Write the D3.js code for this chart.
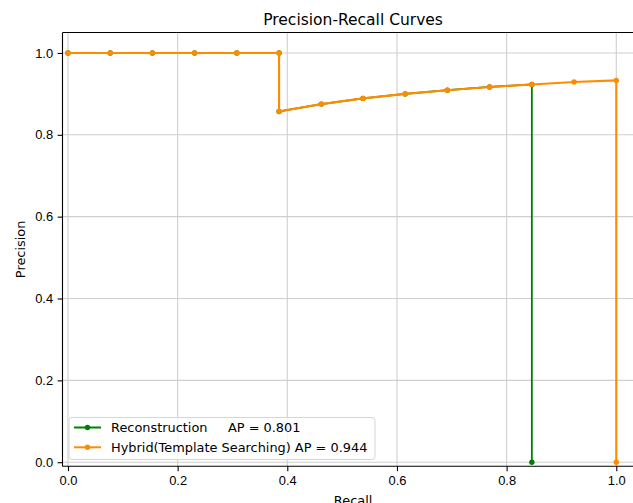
<!DOCTYPE html>
<html>
<head>
<meta charset="utf-8">
<script src="https://cdn.jsdelivr.net/npm/d3@7"></script>
<style>
  body { margin: 0; background: #fff; }
  svg { font-family: "DejaVu Sans", sans-serif; }
  .grid line { stroke: #cfcfcf; stroke-width: 1.1; }
  .axis path, .axis line { stroke: #000; stroke-width: 1.1; }
  .axis text { font-size: 12.9px; fill: #000; }
</style>
</head>
<body>
<script>
// data
var recallHybrid = [0.0, 0.077, 0.154, 0.231, 0.308, 0.385, 0.385, 0.462, 0.538, 0.615, 0.692, 0.769, 0.846, 0.923, 1.0, 1.0];
var precisionHybrid = [1.0, 1.0, 1.0, 1.0, 1.0, 1.0, 0.857, 0.875, 0.889, 0.900, 0.909, 0.917, 0.923, 0.929, 0.933, 0.0];

var recallRecon = [0.0, 0.077, 0.154, 0.231, 0.308, 0.385, 0.385, 0.462, 0.538, 0.615, 0.692, 0.769, 0.846, 0.846];
var precisionRecon = [1.0, 1.0, 1.0, 1.0, 1.0, 1.0, 0.857, 0.875, 0.889, 0.900, 0.909, 0.917, 0.923, 0.0];

var seriesNames = ['Reconstruction     AP = 0.801', 'Hybrid(Template Searching) AP = 0.944'];
var seriesColors = ['#008000', '#ff8c00'];
var seriesWidths = [1.8, 2.1];

var xTicks = [0.0, 0.2, 0.4, 0.6, 0.8, 1.0];
var yTicks = [0.0, 0.2, 0.4, 0.6, 0.8, 1.0];

var svgWidth = 633, svgHeight = 503;
var plotLeft = 62.5, plotTop = 32.5, plotBottom = 466.3;
var plotRight = 643.7;

var series = [
    { name: seriesNames[0], color: seriesColors[0], width: seriesWidths[0], pts: recallRecon.map(function(r, i) { return { r: r, p: precisionRecon[i] }; }) },
    { name: seriesNames[1], color: seriesColors[1], width: seriesWidths[1], pts: recallHybrid.map(function(r, i) { return { r: r, p: precisionHybrid[i] }; }) }
];

var xScale = d3.scaleLinear().domain([-0.01, 1.05]).range([plotLeft, plotRight]);
var yScale = d3.scaleLinear().domain([-0.01, 1.05]).range([plotBottom, plotTop]);

var svg = d3.select('body')
    .append('svg')
    .attr('width', svgWidth)
    .attr('height', svgHeight);

// grid
var grid = svg.append('g').attr('class', 'grid');
grid.selectAll('.gx')
    .data(xTicks)
    .enter().append('line')
    .attr('x1', function(d) { return xScale(d); })
    .attr('x2', function(d) { return xScale(d); })
    .attr('y1', plotTop)
    .attr('y2', plotBottom);
grid.selectAll('.gy')
    .data(yTicks)
    .enter().append('line')
    .attr('x1', plotLeft)
    .attr('x2', plotRight)
    .attr('y1', function(d) { return yScale(d); })
    .attr('y2', function(d) { return yScale(d); });

// lines + markers
var line = d3.line()
    .x(function(d) { return xScale(d.r); })
    .y(function(d) { return yScale(d.p); });

series.forEach(function(s) {
    svg.append('path')
        .datum(s.pts)
        .attr('fill', 'none')
        .attr('stroke', s.color)
        .attr('stroke-width', s.width)
        .attr('stroke-linejoin', 'round')
        .attr('d', line);

    svg.selectAll(null)
        .data(s.pts)
        .enter().append('circle')
        .attr('cx', function(d) { return xScale(d.r); })
        .attr('cy', function(d) { return yScale(d.p); })
        .attr('r', 2.7)
        .attr('fill', s.color);
});

// axes
var xAxis = d3.axisBottom(xScale).tickValues(xTicks).tickFormat(d3.format('.1f')).tickSize(4.9).tickPadding(4.5);
var yAxis = d3.axisLeft(yScale).tickValues(yTicks).tickFormat(d3.format('.1f')).tickSize(4.9).tickPadding(4.5);

svg.append('g')
    .attr('class', 'x axis')
    .attr('transform', 'translate(0,' + plotBottom + ')')
    .call(xAxis)
    .call(function(g) { g.select('.domain').attr('d', 'M' + plotLeft + ',0H' + plotRight); });

svg.append('g')
    .attr('class', 'y axis')
    .attr('transform', 'translate(' + plotLeft + ',0)')
    .call(yAxis)
    .call(function(g) { g.select('.domain').attr('d', 'M0,' + plotTop + 'V' + plotBottom); });

// top spine
svg.append('line')
    .attr('x1', plotLeft).attr('x2', plotRight)
    .attr('y1', plotTop).attr('y2', plotTop)
    .attr('stroke', '#000').attr('stroke-width', 1.1);

// title and labels
var cx = (plotLeft + plotRight) / 2;
svg.append('text')
    .attr('x', cx).attr('y', 25)
    .attr('text-anchor', 'middle')
    .attr('font-size', '15.5px')
    .text('Precision-Recall Curves');

svg.append('text')
    .attr('x', cx).attr('y', 505)
    .attr('text-anchor', 'middle')
    .attr('font-size', '12.9px')
    .text('Recall');

svg.append('text')
    .attr('transform', 'translate(25,' + ((plotTop + plotBottom) / 2) + ') rotate(-90)')
    .attr('text-anchor', 'middle')
    .attr('font-size', '12.9px')
    .text('Precision');

// legend
var legend = svg.append('g').attr('transform', 'translate(69,417.5)');
legend.append('rect')
    .attr('width', 306).attr('height', 42)
    .attr('rx', 3)
    .attr('fill', 'rgba(255,255,255,0.8)')
    .attr('stroke', '#d6d6d6')
    .attr('stroke-width', 1);

series.forEach(function(s, i) {
    var y = 10 + i * 19.8;
    legend.append('line')
        .attr('x1', 5).attr('x2', 32)
        .attr('y1', y).attr('y2', y)
        .attr('stroke', s.color).attr('stroke-width', 2);
    legend.append('circle')
        .attr('cx', 18.5).attr('cy', y).attr('r', 2.7)
        .attr('fill', s.color);
    legend.append('text')
        .attr('x', 42).attr('y', y + 4.6)
        .attr('font-size', '12.9px')
        .attr('xml:space', 'preserve')
        .style('white-space', 'pre')
        .text(s.name);
});
</script>
</body>
</html>
